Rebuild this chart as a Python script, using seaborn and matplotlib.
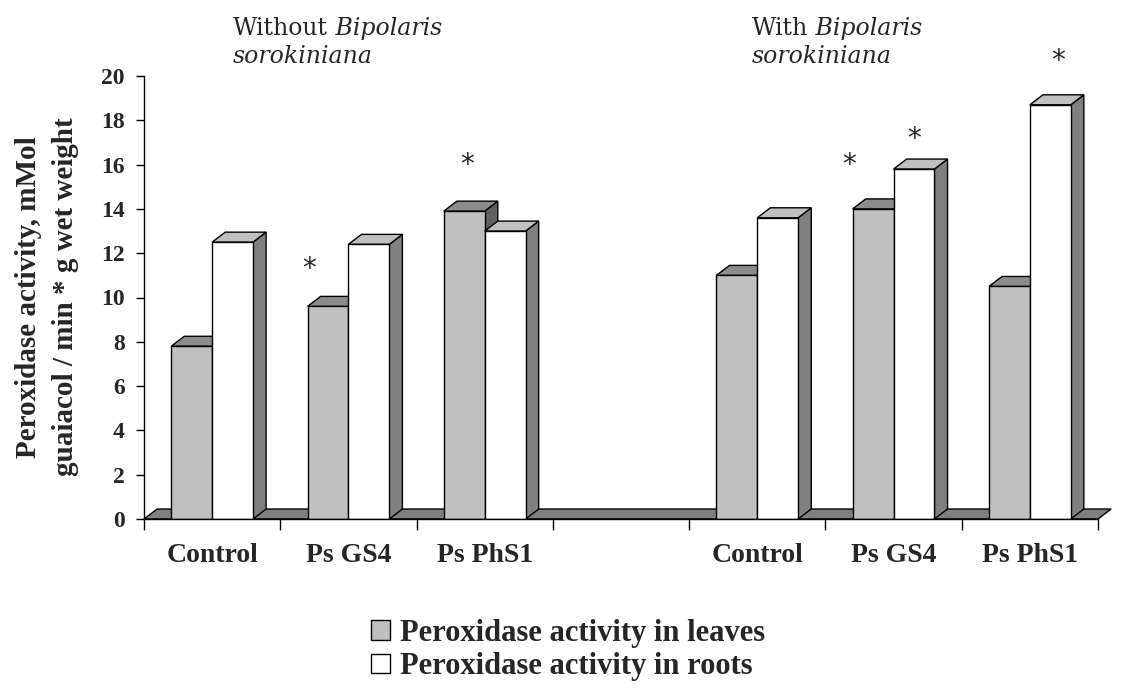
import numpy as np
import pandas as pd
import matplotlib
matplotlib.use("Agg")
import matplotlib.pyplot as plt
from matplotlib.patches import Polygon, Patch
import seaborn as sns

# slots along the x axis (one empty slot separates the two groups)
slot_keys = ["ctrl_wo", "gs4_wo", "phs1_wo", "gap", "ctrl_w", "gs4_w", "phs1_w"]
slot_labels = ["Control", "Ps GS4", "Ps PhS1", "", "Control", "Ps GS4", "Ps PhS1"]
series = ["Peroxidase activity in leaves", "Peroxidase activity in roots"]

leaves = [7.8, 9.6, 13.9, None, 11.0, 14.0, 10.5]
roots = [12.5, 12.4, 13.0, None, 13.6, 15.8, 18.7]

# significance asterisks: slot index, series index, height, small shift
star_slot = [1, 2, 5, 5, 6]
star_series = [0, 0, 0, 1, 1]
star_y = [11.6, 16.3, 16.3, 17.5, 21.0]
star_shift = [-0.14, 0.02, -0.18, 0.0, 0.06]

front_colors = ["#c0c0c0", "#ffffff"]
side_colors = ["#606060", "#808080"]
top_colors = ["#8c8c8c", "#c0c0c0"]

rows = []
for i, key in enumerate(slot_keys):
    for s, vals in zip(series, [leaves, roots]):
        if vals[i] is not None:
            rows.append({"slot": key, "series": s, "value": vals[i]})
df = pd.DataFrame(rows)

sns.set_theme(style="white")
plt.rcParams["font.family"] = ["Liberation Serif", "DejaVu Serif"]

fig = plt.figure(figsize=(11.28, 6.89), dpi=100)
ax = fig.add_axes([144 / 1128, 1 - 519 / 689, (1098 - 144) / 1128, (519 - 76) / 689])

sns.barplot(data=df, x="slot", y="value", hue="series", order=slot_keys,
            hue_order=series, palette=front_colors, width=0.6,
            edgecolor="black", linewidth=1, legend=False, ax=ax)

ax.set_xlim(-0.5, len(slot_keys) - 0.5)
ax.set_ylim(0, 20)

# depth of the pseudo-3D effect in data units
dx, dy = 0.096, 0.45

# floor strip
floor = Polygon([(-0.5, 0), (-0.5 + dx, dy), (len(slot_keys) - 0.5 + dx, dy),
                 (len(slot_keys) - 0.5, 0)], closed=True, facecolor="#808080",
                edgecolor="black", linewidth=1, zorder=1, clip_on=False)
ax.add_patch(floor)

bars = [p for p in ax.patches if p is not floor and np.isfinite(p.get_height()) and p.get_height() > 0]
bars.sort(key=lambda p: p.get_x())
bar_lookup = {}
for i, p in enumerate(bars):
    x0, w, h = p.get_x(), p.get_width(), p.get_height()
    x1 = x0 + w
    k = 0 if np.allclose(p.get_facecolor()[:3], matplotlib.colors.to_rgb(front_colors[0])) else 1
    z = 2 + i
    p.set_zorder(z + 0.5)
    side = Polygon([(x1, 0), (x1 + dx, dy), (x1 + dx, h + dy), (x1, h)], closed=True,
                   facecolor=side_colors[k], edgecolor="black", linewidth=1, zorder=z, clip_on=False)
    top = Polygon([(x0, h), (x0 + dx, h + dy), (x1 + dx, h + dy), (x1, h)], closed=True,
                  facecolor=top_colors[k], edgecolor="black", linewidth=1, zorder=z, clip_on=False)
    ax.add_patch(side)
    ax.add_patch(top)
    slot = int(round(x0 + w / 2 + (0.15 if k == 0 else -0.15)))
    bar_lookup[(slot, k)] = x0 + w / 2

for sl, se, yv, sh in zip(star_slot, star_series, star_y, star_shift):
    ax.annotate("*", xy=(bar_lookup[(sl, se)] + sh, yv), xytext=(0, -11),
                textcoords="offset points", ha="center", va="baseline",
                fontsize=20, family="DejaVu Sans", annotation_clip=False)

# axes styling
sns.despine(ax=ax, top=True, right=True)
for sp in ["left", "bottom"]:
    ax.spines[sp].set_color("black")
    ax.spines[sp].set_linewidth(1)
    ax.spines[sp].set_zorder(50)
ax.set_yticks(np.arange(0, 21, 2))
ax.set_yticklabels([str(v) for v in range(0, 21, 2)], fontsize=17, fontweight="bold")
ax.tick_params(axis="y", direction="out", length=6, width=1, color="black", left=True, pad=8)
ax.set_xticks(np.arange(-0.5, len(slot_keys), 1.0))
ax.set_xticklabels([])
ax.set_xticks(np.arange(len(slot_keys)), minor=True)
ax.set_xticklabels(slot_labels, minor=True, fontsize=20, fontweight="bold")
ax.tick_params(axis="x", which="minor", length=0, pad=17)
ax.tick_params(axis="x", which="major", direction="out", length=8, width=1, color="black", bottom=True)
ax.set_xlabel("")
ax.set_ylabel("")

fig.text(47 / 1128, 1 - 297 / 689,
         "Peroxidase activity, mMol\nguaiacol / min * g wet weight",
         rotation=90, ha="center", va="center", multialignment="center",
         fontsize=21, fontweight="bold", linespacing=1.5)

# group headings
for x_px, word in [(233, "Without"), (752, "With")]:
    t1 = fig.text(x_px / 1128, 1 - 35 / 689, word, fontsize=17, va="baseline", ha="left",
                  family="DejaVu Serif")
    ax.annotate(" Bipolaris", xy=(1, 0), xycoords=t1, va="bottom", ha="left",
                fontsize=17, style="italic", family="DejaVu Serif", annotation_clip=False)
    fig.text(x_px / 1128, 1 - 63 / 689, "sorokiniana", fontsize=17, style="italic",
             va="baseline", ha="left", family="DejaVu Serif")

handles = [Patch(facecolor=c, edgecolor="black", linewidth=1) for c in front_colors]
fig.legend(handles, series, loc="center", bbox_to_anchor=(0.504, 1 - 650 / 689),
           frameon=False, prop={"size": 22, "weight": "bold"},
           handlelength=0.6, handleheight=0.6, handletextpad=0.35, labelspacing=0.15)

fig.savefig("out.png", dpi=100)
